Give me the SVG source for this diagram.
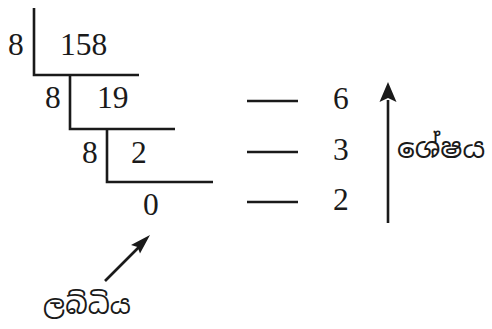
<svg xmlns="http://www.w3.org/2000/svg" width="492" height="329" viewBox="0 0 492 329">
<style>
.n{font-family:"Liberation Serif","DejaVu Serif",serif;font-size:31.5px;fill:#1a1a1a}
.s{font-family:"Noto Sans Sinhala","Iskoola Pota","Noto Sans","Noto Serif Sinhala",sans-serif;font-size:26px;fill:#1a1a1a}
.l{stroke:#1a1a1a;stroke-width:2.6;fill:none}
.h{fill:#1a1a1a}
</style>
<g id="division">
<path class="l" d="M34 8V75H139M70 75V129H175M107 129V182H213"/>
<text class="n" x="8" y="55">8</text>
<text class="n" x="60" y="55">158</text>
<text class="n" x="45" y="108">8</text>
<text class="n" x="97" y="108">19</text>
<text class="n" x="82" y="163">8</text>
<text class="n" x="131" y="163">2</text>
<text class="n" x="143" y="215">0</text>
</g>
<g id="remainders">
<path class="l" d="M247 101H298M247 152H298M247 202H298"/>
<text class="n" x="333" y="109">6</text>
<text class="n" x="333" y="160">3</text>
<text class="n" x="333" y="210">2</text>
</g>
<g id="connectors">
<line class="l" x1="388" y1="223" x2="388" y2="100"/>
<polygon class="h" points="388,82 379.5,102 388,98 396.5,102"/>
<line class="l" x1="105" y1="281" x2="143" y2="243"/>
<polygon class="h" points="150,235 131,245 137.5,247 140,253.5"/>
</g>
<g id="label-remainder">
<text class="s" x="397" y="158" style="font-size:28px">ශේෂය</text>
</g>
<g id="label-quotient">
<text class="s" x="43" y="314">ලබ්ධිය</text>
</g>
</svg>
